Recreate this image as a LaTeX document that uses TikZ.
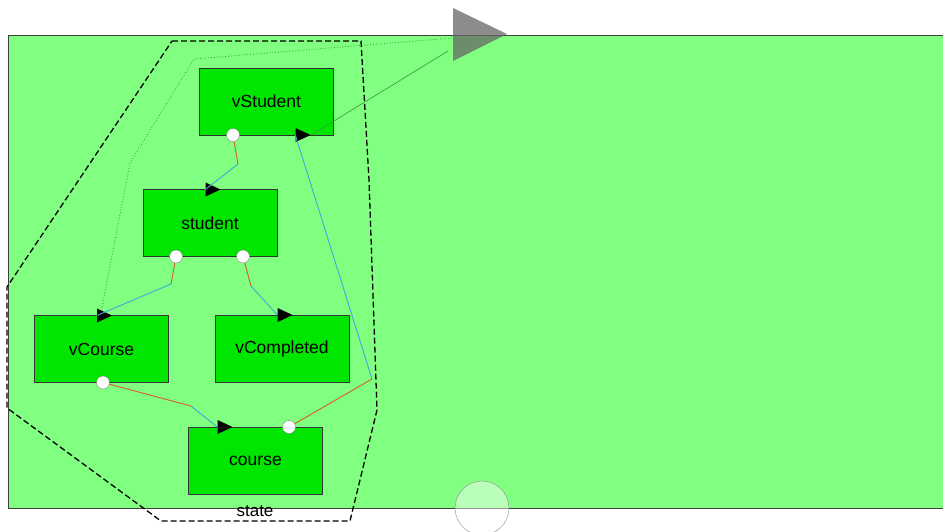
\documentclass[tikz,border=0pt]{standalone}
\usepackage{fontspec}
\setmainfont{Liberation Sans}
\usepackage{xcolor}
\usetikzlibrary{shapes, positioning}

\definecolor{bggreen}{RGB}{128,255,128}
\definecolor{boxgreen}{RGB}{0,230,0}
\definecolor{wireout}{RGB}{215,95,35}
\definecolor{wirein}{RGB}{64,170,220}
\definecolor{linkgreen}{RGB}{60,150,60}

\begin{document}
\begin{tikzpicture}[x=1pt, y=-1pt,
	blk/.style={draw=black!80, fill=boxgreen, minimum width=134pt, minimum height=67pt,
		inner sep=0pt, outer sep=0pt, font=\fontsize{17.5}{20}\selectfont},
	outport/.style={circle, draw=black!50, fill=white, minimum size=13pt, inner sep=0pt},
	inport/.style={isosceles triangle, isosceles triangle stretches, fill=black,
		minimum height=15pt, minimum width=14pt, inner sep=0pt},
	wireo/.style={wireout, line width=0.9pt},
	wirei/.style={wirein, line width=0.9pt}]
	\useasboundingbox (0,0) rectangle (943,531);
	
	\draw [draw=black!75, fill=bggreen] (8,35) rectangle (950,508);
	
	\draw [line width=1.3pt, dash pattern=on 6pt off 3pt]
	(172,41)--(361,41)--(369,180)--(377,410)--(350,521)--(161,521)
	--(7,408)--(7,287)--cycle;
	\node [font=\fontsize{17}{20}\selectfont] (stateLbl) at (255,511) {state};
	
	% boxes
	\node [blk] (vStudent) at (266.5,101.5) {vStudent};
	\node [blk] (student) at (210,223) {student};
	\node [blk] (vCourse) at (101.5,349) {vCourse};
	\node [blk] (vCompleted) at (282,348.5) {vCompleted};
	\node [blk] (course) at (255.5,460.5) {course};
	
	% ports
	\node [inport] (vStudentIn) at ([xshift=33.5pt]vStudent.south) {};
	\node [outport] (vStudentOut) at ([xshift=-33.5pt]vStudent.south) {};
	\node [inport] (studentIn) at (student.north) {};
	\node [outport] (studentOutA) at ([xshift=-34pt]student.south) {};
	\node [outport] (studentOutB) at ([xshift=33pt]student.south) {};
	\node [inport] (vCourseIn) at (vCourse.north) {};
	\node [outport] (vCourseOut) at ([xshift=1.5pt]vCourse.south) {};
	\node [inport] (vCompletedIn) at (vCompleted.north) {};
	\node [inport] (courseIn) at ([xshift=-33.5pt]course.north) {};
	\node [outport] (courseOut) at ([xshift=33.5pt]course.north) {};
	
	% bends
	\coordinate (bendA) at (238,164);
	\coordinate (bendB) at (171,284);
	\coordinate (bendC) at (251,286);
	\coordinate (bendD) at (191,406);
	\coordinate (bendE) at (372,379);
	
	\draw [wireo] (vStudentOut)--(bendA);
	\draw [wirei] (bendA)--(studentIn.west);
	\draw [wireo] (studentOutA)--(bendB);
	\draw [wirei] (bendB)--(vCourseIn.west);
	\draw [wireo] (studentOutB)--(bendC);
	\draw [wirei] (bendC)--(vCompletedIn.west);
	\draw [wireo] (vCourseOut)--(bendD);
	\draw [wirei] (bendD)--(courseIn.west);
	\draw [wireo] (courseOut)--(bendE);
	\draw [wirei] (bendE)--(vStudentIn.west);
	
	% top port
	\coordinate (topA) at (453,8);
	\coordinate (topB) at (453,61);
	\coordinate (topTip) at (507,34);
	\fill [black!60, opacity=0.75] (topA)--(topB)--(topTip)--cycle;
	\coordinate (linkA) at (452,38);
	\coordinate (linkB) at (448,51);
	\draw [linkgreen, dotted, line width=0.8pt] (linkA)--(194,59)--(130,163)--(vCourseIn.north);
	\draw [linkgreen, line width=0.6pt] (linkB)--(vStudentIn.east);
	
	% bottom handle
	\draw [black!45, fill=white, fill opacity=0.45] (482,508) circle (27pt);
\end{tikzpicture}
\end{document}
